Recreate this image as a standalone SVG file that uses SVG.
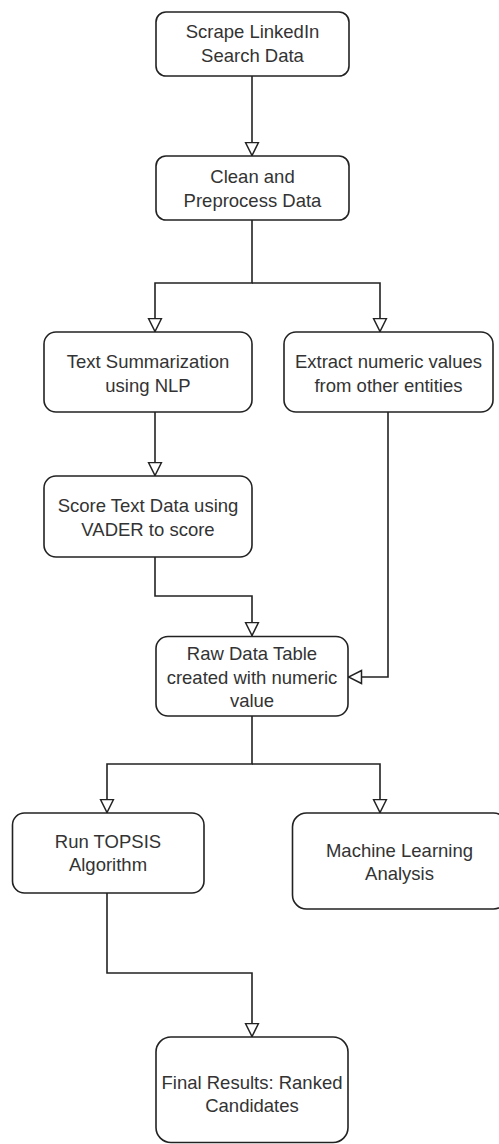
<svg xmlns="http://www.w3.org/2000/svg" width="499" height="1144" viewBox="0 0 499 1144">
<style>
.n rect{fill:#fff;stroke:#222;stroke-width:1.6}
.n text{font-family:"Liberation Sans",Arial,sans-serif;font-size:18.5px;fill:#333;text-anchor:middle}
.c path{fill:none;stroke:#222;stroke-width:1.6}
</style>
<defs>
<marker id="a" viewBox="0 0 15 16" refX="14.5" refY="8" markerWidth="15" markerHeight="16" orient="auto" markerUnits="userSpaceOnUse">
<path d="M1,1.5 L14,8 L1,14.5 Z" fill="#fff" stroke="#222" stroke-width="1.5"/>
</marker>
</defs>
<rect width="499" height="1144" fill="#fff"/>
<g class="c" id="connectors">
<path d="M252,76 V156" marker-end="url(#a)"/>
<path d="M252,220 V283 H155 V332" marker-end="url(#a)"/>
<path d="M252,283 H380 V332" marker-end="url(#a)"/>
<path d="M155,412 V476" marker-end="url(#a)"/>
<path d="M155,557 V596 H252 V636" marker-end="url(#a)"/>
<path d="M388,412 V677 H348" marker-end="url(#a)"/>
<path d="M252,716 V764 H107 V813" marker-end="url(#a)"/>
<path d="M252,764 H380 V813" marker-end="url(#a)"/>
<path d="M107,893 V973 H252 V1037" marker-end="url(#a)"/>
</g>
<g class="n" id="scrape">
<rect x="156" y="12" width="193" height="64" rx="10"/>
<text x="252.5" y="37.5">Scrape LinkedIn</text>
<text x="252.5" y="62">Search Data</text>
</g>
<g class="n" id="clean">
<rect x="156" y="156" width="193" height="64" rx="10"/>
<text x="252.5" y="182.5">Clean and</text>
<text x="252.5" y="206.5">Preprocess Data</text>
</g>
<g class="n" id="summarize">
<rect x="44" y="332" width="208" height="80" rx="12"/>
<text x="148" y="367.5">Text Summarization</text>
<text x="148" y="391.5">using NLP</text>
</g>
<g class="n" id="extract">
<rect x="284" y="332" width="209" height="80" rx="12"/>
<text x="388.5" y="367.5">Extract numeric values</text>
<text x="388.5" y="391.5">from other entities</text>
</g>
<g class="n" id="score">
<rect x="44" y="476" width="208" height="81" rx="12"/>
<text x="148" y="511.5">Score Text Data using</text>
<text x="148" y="535.5">VADER to score</text>
</g>
<g class="n" id="raw">
<rect x="156" y="636.5" width="192" height="79.5" rx="12"/>
<text x="252" y="660">Raw Data Table</text>
<text x="252" y="683.5">created with numeric</text>
<text x="252" y="706.5">value</text>
</g>
<g class="n" id="topsis">
<rect x="12.5" y="813" width="191.5" height="80" rx="12"/>
<text x="108" y="847.5">Run TOPSIS</text>
<text x="108" y="870.5">Algorithm</text>
</g>
<g class="n" id="ml">
<rect x="292.5" y="813" width="215" height="96" rx="14"/>
<text x="399.5" y="856.5">Machine Learning</text>
<text x="399.5" y="879.5">Analysis</text>
</g>
<g class="n" id="final">
<rect x="156" y="1037" width="192" height="105.5" rx="15"/>
<text x="252" y="1088.5">Final Results: Ranked</text>
<text x="252" y="1111.5">Candidates</text>
</g>
</svg>
